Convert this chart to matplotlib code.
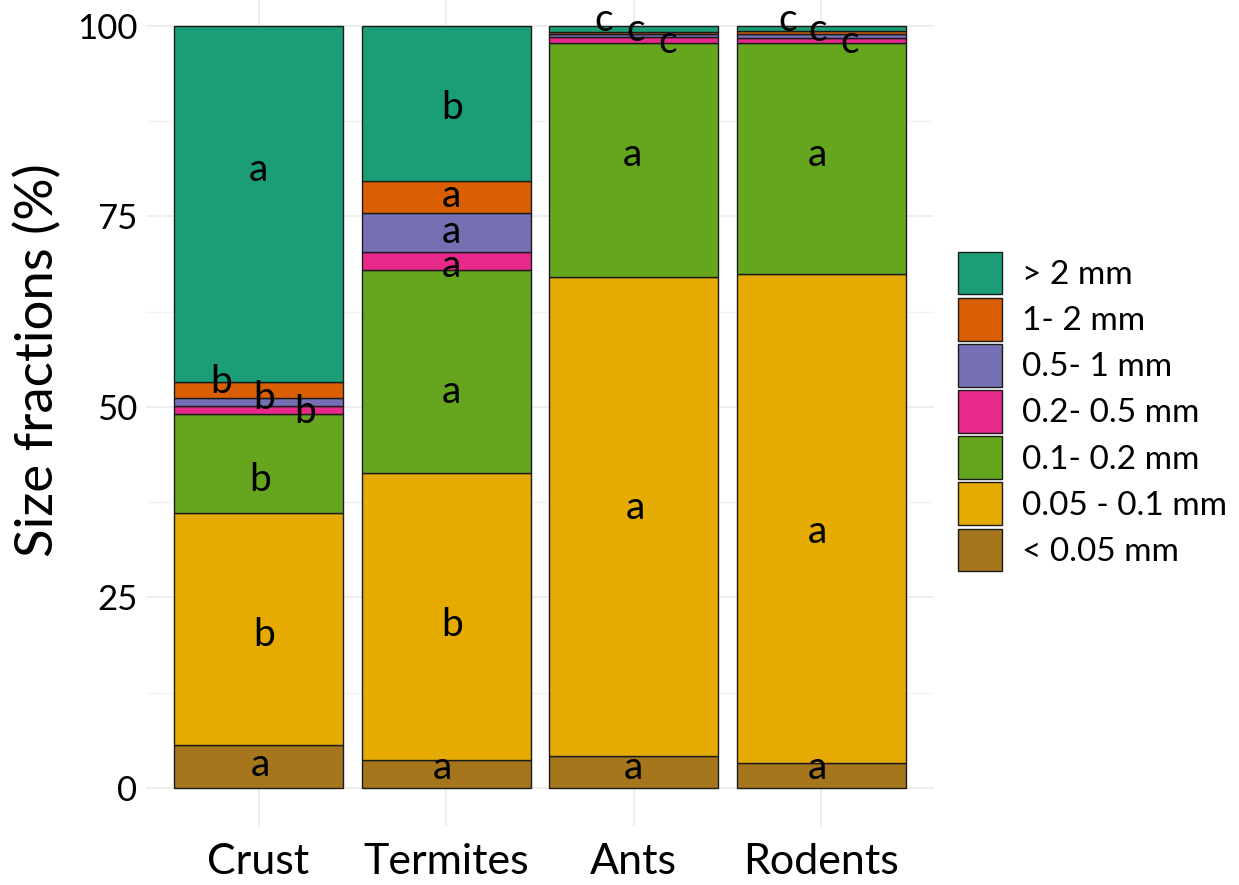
import matplotlib
matplotlib.use("Agg")
import matplotlib.pyplot as plt
import numpy as np

categories = ["Crust", "Termites", "Ants", "Rodents"]
fractions = ["< 0.05 mm", "0.05 - 0.1 mm", "0.1- 0.2 mm", "0.2- 0.5 mm",
             "0.5- 1 mm", "1- 2 mm", "> 2 mm"]
colors = ["#A6761D", "#E6AB02", "#66A61E", "#E7298A", "#7570B3", "#D95F02", "#1B9E77"]

# values (%) per fraction, order: Crust, Termites, Ants, Rodents
lt005 = [5.6, 3.7, 4.2, 3.3]
f005_01 = [30.5, 37.6, 62.9, 64.2]
f01_02 = [13.0, 26.7, 30.6, 30.2]
f02_05 = [1.0, 2.3, 0.9, 0.7]
f05_1 = [1.1, 5.2, 0.3, 0.6]
f1_2 = [2.1, 4.2, 0.35, 0.3]
gt2 = [46.7, 20.3, 0.75, 0.7]
series = [lt005, f005_01, f01_02, f02_05, f05_1, f1_2, gt2]

# significance letters: (category index, x offset, y value, letter)
letter_cat = [0, 0, 0, 0, 0, 0, 0,
              1, 1, 1, 1, 1, 1, 1,
              2, 2, 2, 2, 2, 2,
              3, 3, 3, 3, 3, 3]
letter_dx = [0.01, 0.03, 0.01, 0.0, -0.2, 0.03, 0.25,
             -0.02, 0.03, 0.03, 0.03, 0.03, 0.03, 0.03,
             0.0, 0.01, -0.01, -0.16, 0.01, 0.18,
             -0.02, -0.02, -0.02, -0.18, -0.02, 0.15]
letter_y = [3.0, 20.1, 40.4, 81.1, 53.3, 51.2, 49.3,
            2.6, 21.4, 52.0, 68.5, 73.0, 77.7, 89.2,
            2.6, 36.7, 83.1, 100.8, 99.5, 97.9,
            2.6, 33.6, 83.1, 100.8, 99.5, 97.9]
letters = ["a", "b", "b", "a", "b", "b", "b",
           "a", "b", "a", "a", "a", "a", "b",
           "a", "a", "a", "c", "c", "c",
           "a", "a", "a", "c", "c", "c"]

plt.rcParams["font.family"] = ["Lato", "DejaVu Sans"]

fig = plt.figure(figsize=(12.39, 8.85), dpi=100)
ax = fig.add_axes([0.1178, 0.0667, 0.636, 0.9333])

x = np.arange(1, len(categories) + 1)
bottom = np.zeros(len(categories))
handles = []
for vals, col, lab in zip(series, colors, fractions):
    h = ax.bar(x, vals, width=0.9, bottom=bottom, color=col, edgecolor="#1a1a1a",
               linewidth=1.0, label=lab, zorder=2)
    handles.append(h)
    bottom += np.array(vals)

for ci, dx, yv, t in zip(letter_cat, letter_dx, letter_y, letters):
    ax.text(x[ci] + dx, yv, t, ha="center", va="center", fontsize=28, color="black", zorder=3)

ax.set_xlim(0.4, 4.6)
ax.set_ylim(-5, 103.4)
ax.set_xticks(x)
ax.set_xticklabels(categories, fontsize=31)
ax.set_yticks([0, 25, 50, 75, 100])
ax.set_yticklabels(["0", "25", "50", "75", "100"], fontsize=25)
ax.set_yticks([12.5, 37.5, 62.5, 87.5], minor=True)
ax.tick_params(axis="both", length=0, which="both")
ax.tick_params(axis="y", pad=6)
ax.tick_params(axis="x", pad=12)
ax.grid(True, which="major", color="#EBEBEB", linewidth=1.2, zorder=0)
ax.grid(True, which="minor", axis="y", color="#F2F2F2", linewidth=1.0, zorder=0)
ax.set_axisbelow(True)
for s in ax.spines.values():
    s.set_visible(False)
ax.set_ylabel("Size fractions (%)", fontsize=38, va="center")
ax.yaxis.set_label_coords(-0.137, 0.564)

leg = fig.legend(handles[::-1], fractions[::-1], loc="center left",
                 bbox_to_anchor=(0.773, 0.535), frameon=False, fontsize=24,
                 handlelength=1.33, handleheight=1.6, labelspacing=0.1,
                 handletextpad=0.6, borderpad=0, borderaxespad=0)

fig.savefig("out.png", dpi=100)
